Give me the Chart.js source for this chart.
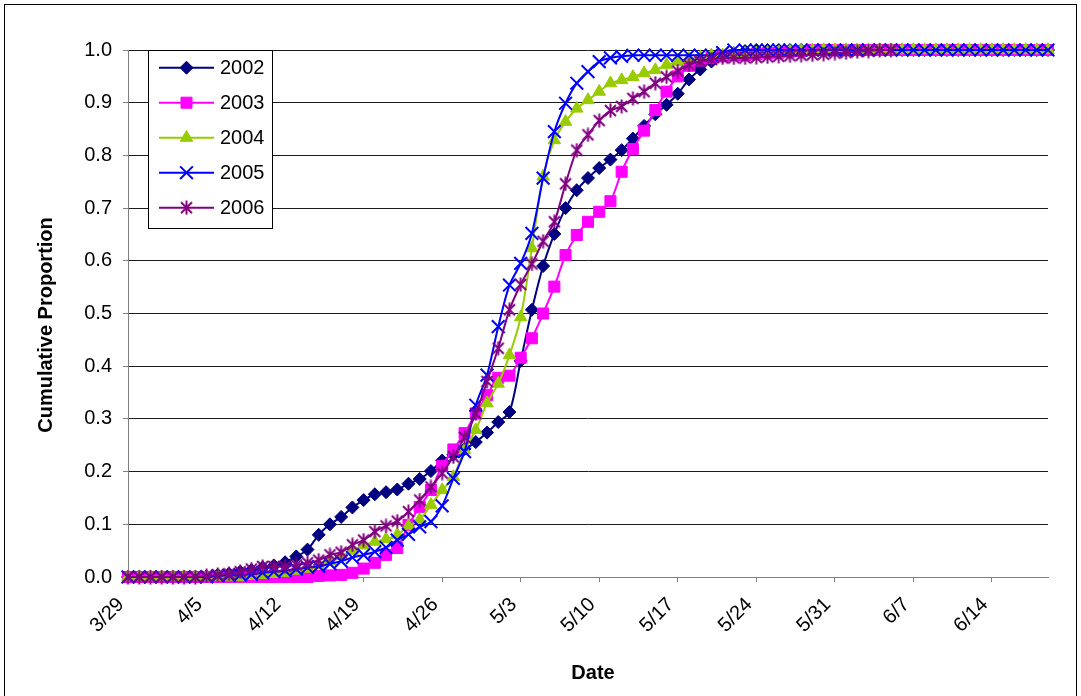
<!DOCTYPE html>
<html>
<head>
<meta charset="utf-8">
<script src="https://cdn.jsdelivr.net/npm/chart.js"></script>
<style>
html,body{margin:0;padding:0;background:#fff;}
canvas{display:block;}
</style>
</head>
<body>
<canvas id="c" width="1081" height="696"></canvas>
<script>
// ---- data ----
const dates = ['3/29','3/30','3/31','4/1','4/2','4/3','4/4','4/5','4/6','4/7','4/8','4/9','4/10','4/11','4/12','4/13','4/14','4/15','4/16','4/17','4/18','4/19','4/20','4/21','4/22','4/23','4/24','4/25','4/26','4/27','4/28','4/29','4/30','5/1','5/2','5/3','5/4','5/5','5/6','5/7','5/8','5/9','5/10','5/11','5/12','5/13','5/14','5/15','5/16','5/17','5/18','5/19','5/20','5/21','5/22','5/23','5/24','5/25','5/26','5/27','5/28','5/29','5/30','5/31','6/1','6/2','6/3','6/4','6/5','6/6','6/7','6/8','6/9','6/10','6/11','6/12','6/13','6/14','6/15','6/16','6/17','6/18','6/19'];
const tickLabels = ['3/29','4/5','4/12','4/19','4/26','5/3','5/10','5/17','5/24','5/31','6/7','6/14'];
const seriesNames = ['2002','2003','2004','2005','2006'];
const xTitle = 'Date';
const yTitle = 'Cumulative Proportion';

const s2002 = [0,0,0,0,0,0,0,
  0.002,0.004,0.006,0.010,0.013,0.018,0.022,0.028,
  0.039,0.052,0.080,0.100,0.114,0.132,0.146,0.157,0.161,0.166,0.177,0.186,0.201,0.221,
  0.232,0.243,0.256,0.274,0.294,0.313,0.410,0.507,0.590,0.651,0.700,0.734,0.757,0.776,
  0.792,0.810,0.832,0.856,0.878,0.896,0.917,0.944,0.963,0.978,0.988,0.994,0.998,1,
  1,1,1,1,1,1,1,1,1,1,1,1,1,1,1,1,1,1,1,1,1,1,1,1,1,1];
const s2003 = [0,0,0,0,0,0,0,0,0,0,0,0,0,0,0,0,0,
  0.002,0.003,0.004,0.008,0.016,0.027,0.042,0.055,0.099,0.133,0.165,0.211,0.242,0.273,
  0.310,0.345,0.378,0.382,0.416,0.453,0.500,0.551,0.611,0.649,0.674,0.693,0.713,0.769,
  0.812,0.847,0.886,0.921,0.950,0.970,0.980,0.985,0.988,0.990,0.990,0.992,0.994,0.995,
  0.997,0.998,
  1,1,1,1,1,1,1,1,1,1,1,1,1,1,1,1,1,1,1,1,1,1];
const s2004 = [0,0,0,0,0,0,0,0,0,0,0,
  0.002,0.004,0.006,0.008,0.012,0.016,0.022,0.030,0.040,0.050,0.060,0.067,0.072,0.080,
  0.097,0.109,0.137,0.165,0.190,0.241,0.279,0.330,0.367,0.421,0.493,0.624,0.760,0.829,
  0.864,0.889,0.905,0.921,0.937,0.943,0.949,0.956,0.962,0.972,0.978,0.983,0.986,0.990,
  0.990,0.992,0.993,0.994,0.995,0.996,0.997,0.998,0.999,
  1,1,1,1,1,1,1,1,1,1,1,1,1,1,1,1,1,1,1,1,1];
const s2005 = [0,0,0,0,0,0,0,0,
  0.002,0.003,0.004,0.005,0.008,0.010,0.012,0.015,0.018,0.020,0.025,0.030,0.037,0.042,
  0.048,0.056,0.070,0.081,0.095,0.105,0.135,0.187,0.238,0.326,0.383,0.475,0.554,0.595,
  0.652,0.757,0.845,0.899,0.937,0.959,0.978,0.985,0.988,0.990,0.990,0.990,0.990,0.990,
  0.990,0.990,0.990,0.995,
  1,1,1,1,1,1,1,1,1,1,1,1,1,1,1,1,1,1,1,1,1,1,1,1,1,1,1,1,1];
const s2006 = [0,0,0,0,0,0,0,
  0.002,0.004,0.006,0.010,0.015,0.020,0.020,0.020,0.023,0.027,0.032,0.042,0.047,0.061,
  0.070,0.086,0.097,0.106,0.124,0.146,0.171,0.197,0.228,0.265,0.310,0.371,0.434,0.507,
  0.555,0.594,0.637,0.674,0.746,0.810,0.839,0.866,0.885,0.893,0.908,0.921,0.937,0.949,
  0.960,0.972,0.978,0.982,0.985,0.985,0.985,0.986,0.987,0.988,0.989,0.990,0.991,0.992,
  0.994,0.995,0.997,0.998,1,1,
  null,null,null,null,null,null,null,null,null,null,null,null,null,null];

// ---- styles ----
const FONT = '"Liberation Sans", Arial, sans-serif';
const colors = ['#000080','#FF00FF','#99CC00','#0000FF','#800080'];

function starMarker(color){
  const cv = document.createElement('canvas');
  cv.width = 15; cv.height = 15;
  const g = cv.getContext('2d');
  g.strokeStyle = color; g.lineWidth = 2;
  g.beginPath();
  g.moveTo(2,2); g.lineTo(13,13);
  g.moveTo(13,2); g.lineTo(2,13);
  g.moveTo(7.5,0.5); g.lineTo(7.5,14.5);
  g.stroke();
  return cv;
}
const markers = [
  {style:'rectRot', radius:6.5, bw:1},
  {style:'rect', radius:7.8, bw:1},
  {style:'triangle', radius:7.2, bw:1},
  {style:'crossRot', radius:9, bw:2},
  {style:starMarker(colors[4]), radius:7, bw:0}
];
const allData = [s2002,s2003,s2004,s2005,s2006];

const datasets = allData.map((d,k) => ({
  label: seriesNames[k],
  data: d,
  borderColor: colors[k],
  backgroundColor: colors[k],
  borderWidth: 2,
  pointStyle: markers[k].style,
  pointRadius: markers[k].radius,
  pointHoverRadius: markers[k].radius,
  pointBorderWidth: markers[k].bw,
  pointBackgroundColor: colors[k],
  pointBorderColor: colors[k],
  tension: 0.3,
  spanGaps: false,
  clip: false,
  order: 5 - k
}));

const decor = {
  id: 'decor',
  beforeDraw(chart){
    const c = chart.ctx;
    c.save(); c.fillStyle = '#fff'; c.fillRect(0,0,chart.width,chart.height); c.restore();
  },
  afterDraw(chart){
    const c = chart.ctx;
    c.save();
    c.strokeStyle = '#000'; c.lineWidth = 1;
    c.strokeRect(4.5, 4.5, 1072, 700);
    c.fillStyle = '#000';
    c.font = 'bold 20px ' + FONT;
    c.textAlign = 'center'; c.textBaseline = 'middle';
    c.fillText(xTitle, 593, 673);
    c.save();
    c.translate(46, 325); c.rotate(-Math.PI/2); c.fillText(yTitle, 0, 0);
    c.restore();
    // legend
    c.fillStyle = '#fff';
    c.fillRect(148, 50, 125, 179);
    c.strokeStyle = '#000'; c.lineWidth = 1;
    c.strokeRect(148.5, 50.5, 124, 178);
    for (let k = 0; k < 5; k++){
      const y = 67.7 + k*35;
      c.strokeStyle = colors[k]; c.lineWidth = 2;
      c.beginPath(); c.moveTo(159, y); c.lineTo(214, y); c.stroke();
      c.fillStyle = colors[k]; c.strokeStyle = colors[k]; c.lineWidth = markers[k].bw || 1;
      Chart.helpers.drawPoint(c, {pointStyle: markers[k].style, radius: markers[k].radius, rotation: 0, borderWidth: markers[k].bw}, 186.5, y);
      c.fillStyle = '#000';
      c.font = '20px ' + FONT;
      c.textAlign = 'left'; c.textBaseline = 'middle';
      c.fillText(seriesNames[k], 220, y + 1);
    }
    c.restore();
  }
};

new Chart(document.getElementById('c'), {
  type: 'line',
  data: { labels: dates, datasets },
  options: {
    responsive: false,
    animation: false,
    devicePixelRatio: 1,
    layout: { padding: { top: 50, right: 33, left: 0, bottom: 0 } },
    plugins: { legend: { display: false }, tooltip: { enabled: false }, title: { display: false } },
    scales: {
      x: {
        type: 'category',
        offset: false,
        grid: {
          display: true, drawOnChartArea: false, drawTicks: true, tickLength: 5, tickWidth: 1,
          tickColor: ctx => tickLabels.includes(dates[ctx.index]) ? '#808080' : 'rgba(0,0,0,0)'
        },
        border: { display: true, color: '#808080', width: 1 },
        ticks: {
          autoSkip: false, maxRotation: 45, minRotation: 45, padding: 11, labelOffset: -7,
          color: '#000', font: { family: FONT, size: 20 },
          callback: (v, i) => tickLabels.includes(dates[i]) ? dates[i] : ''
        },
        afterFit: s => { s.height = 119; }
      },
      y: {
        min: 0, max: 1,
        grid: {
          color: ctx => (ctx.tick && ctx.tick.value === 0) ? 'rgba(0,0,0,0)' : '#1a1a1a',
          tickColor: '#808080', tickLength: 5, drawTicks: true
        },
        border: { display: true, color: '#808080', width: 1 },
        ticks: {
          stepSize: 0.1, padding: 11, color: '#000', font: { family: FONT, size: 20 },
          callback: v => Number(v).toFixed(1)
        },
        afterFit: s => { s.width = 128; }
      }
    }
  },
  plugins: [decor]
});
</script>
</body>
</html>
